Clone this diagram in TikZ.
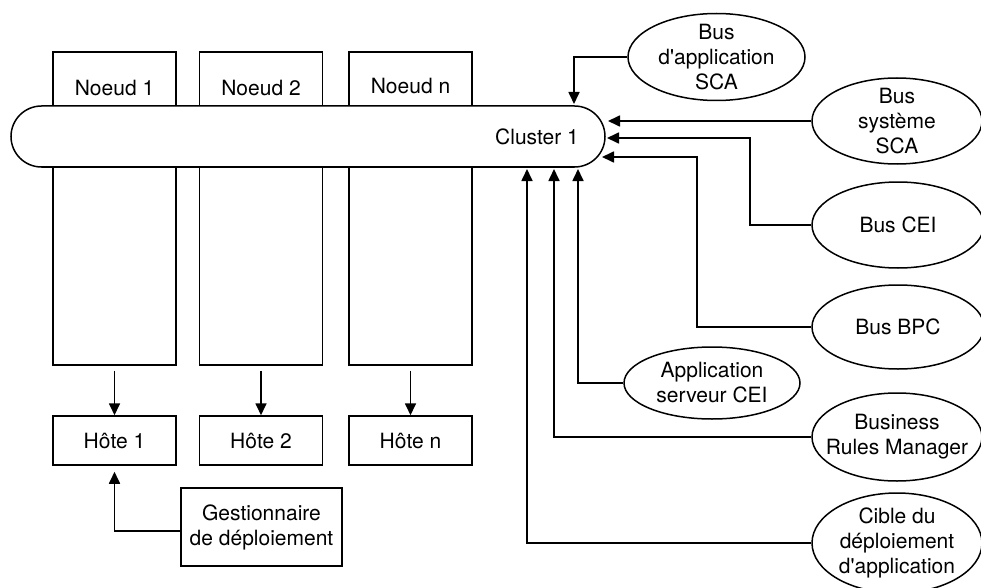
\documentclass[tikz,border=0pt]{standalone}
\usepackage{fontspec}
\setmainfont{TeX Gyre Heros}[Ligatures=TeXOff]
\usetikzlibrary{arrows.meta,shapes.geometric}
\begin{document}
\begin{tikzpicture}[x=1pt,y=-1pt,
  every node/.style={font=\fontsize{21}{25}\selectfont},
  nodebox/.style={draw, line width=1.5pt, fill=white, inner sep=0pt, minimum width=123pt, minimum height=313pt},
  hostbox/.style={draw, line width=1.5pt, fill=white, inner sep=0pt, minimum width=123pt, minimum height=49pt},
  oval/.style={ellipse, draw, line width=1.5pt, inner sep=0pt},
  lbl/.style={align=center, inner sep=0pt},
  arr/.style={-{Triangle[length=12pt,width=11pt]}, line width=1.7pt}]
\useasboundingbox (0,0) rectangle (981,588);

% node columns
\node[nodebox] (n1) at (114.5,208.5) {};
\node[nodebox] (n2) at (261,208.5) {};
\node[nodebox] (nn) at (410.5,208.5) {};
\node[lbl] (tn1) at (114.5,88) {Noeud 1};
\node[lbl] (tn2) at (261,88) {Noeud 2};
\node[lbl] (tnn) at (410.5,86) {Noeud n};

% cluster
\node[draw, line width=1.5pt, fill=white, rounded corners=30.5pt, inner sep=0pt,
      minimum width=594pt, minimum height=61pt] (cluster) at (308,136.5) {};
\node[lbl] (tcl) at (537,137) {Cluster 1};

% hosts
\node[hostbox] (h1) at (114.5,440.5) {Hôte 1};
\node[hostbox] (h2) at (261,440.5) {Hôte 2};
\node[hostbox] (hn) at (410.5,440.5) {Hôte n};
\node[draw, line width=1.5pt, inner sep=0pt, minimum width=161pt, minimum height=78pt, align=center]
  (gest) at (261.5,527) {Gestionnaire\\de déploiement};

\draw[arr] ([yshift=-5pt]n1.south) -- (h1.north);
\draw[arr] ([yshift=-5pt]n2.south) -- (h2.north);
\draw[arr] ([yshift=-5pt]nn.south) -- (hn.north);
\draw[arr, shorten >=6pt] ([yshift=-4pt]gest.west) -| (h1.south);

% ellipses
\node[oval, minimum width=177pt, minimum height=87pt] (appsca) at (716.5,57) {};
\node[lbl] at (appsca) {Bus\\d'application\\SCA};
\node[oval, minimum width=170pt, minimum height=86pt] (syssca) at (897,121) {};
\node[lbl] at (syssca) {Bus\\système\\SCA};
\node[oval, minimum width=172pt, minimum height=86pt] (cei) at (898,225) {};
\node[lbl] at (cei) {Bus CEI};
\node[oval, minimum width=172pt, minimum height=84pt] (bpc) at (898,327) {};
\node[lbl] at (bpc) {Bus BPC};
\node[oval, minimum width=176pt, minimum height=72pt] (appcei) at (712,383) {};
\node[lbl] at (appcei) {Application\\serveur CEI};
\node[oval, minimum width=170pt, minimum height=88pt] (brm) at (897,437) {};
\node[lbl] at (brm) {Business\\Rules Manager};
\node[oval, minimum width=170pt, minimum height=100pt] (cible) at (897,543) {};
\node[lbl] at (cible) {Cible du\\déploiement\\d'application};

% arrow targets on the cluster
\coordinate (tD) at (574,104);
\coordinate (tA) at (608,121);
\coordinate (tB) at (607,138);
\coordinate (tC) at (602,157);
\coordinate (u1) at (578,169);
\coordinate (u2) at (554,169);
\coordinate (u3) at (527,169);

\draw[arr] (appsca.west) -| (tD);
\draw[arr] (syssca.west) -- (syssca.west -| tA);
\draw[arr] (cei.west) -| ([xshift=143pt]tB) -- (tB);
\draw[arr] (bpc.west) -| ([xshift=95pt]tC) -- (tC);
\draw[arr] (appcei.west) -| (u1);
\draw[arr] (brm.west) -| (u2);
\draw[arr] (cible.west) -| (u3);
\end{tikzpicture}
\end{document}
